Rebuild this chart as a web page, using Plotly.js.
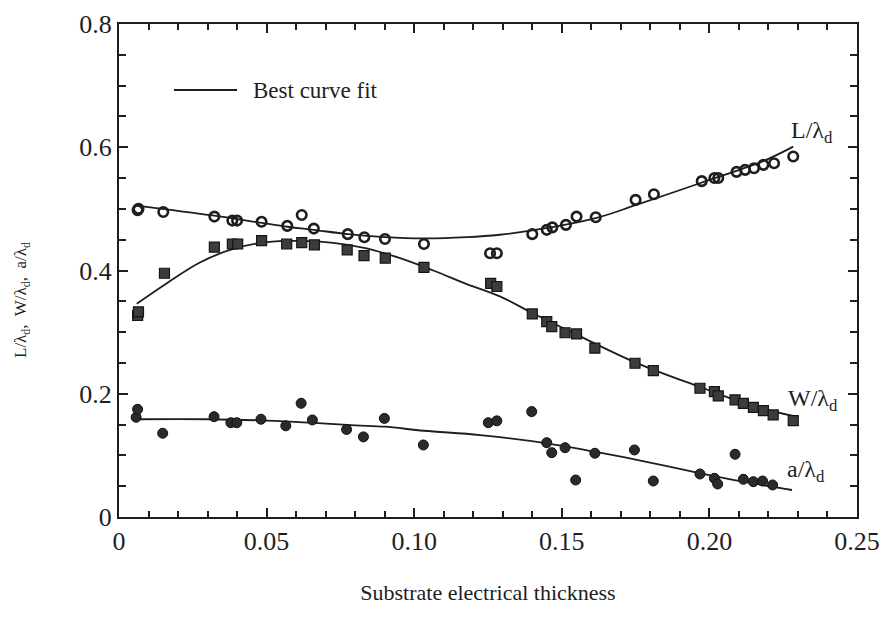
<!DOCTYPE html>
<html>
<head>
<meta charset="utf-8">
<script src="https://cdn.plot.ly/plotly-3.0.1.min.js"></script>
<style>html,body{margin:0;padding:0;background:#fff;}#chart{width:883px;height:629px;}</style>
</head>
<body>
<div id="chart"></div>
<script>
// Measured points: L/λd (open markers)
const L_x = [0.0063, 0.0066, 0.015, 0.0323, 0.0384, 0.040, 0.0483, 0.057, 0.0619, 0.066, 0.0775, 0.0831, 0.0901, 0.1033, 0.1257, 0.128, 0.140, 0.1449, 0.1468, 0.1514, 0.155, 0.1615, 0.175, 0.1812, 0.1974, 0.2017, 0.203, 0.2092, 0.2121, 0.2151, 0.2183, 0.2219, 0.2284];
const L_y = [0.498, 0.500, 0.495, 0.4875, 0.481, 0.481, 0.479, 0.4724, 0.490, 0.468, 0.459, 0.454, 0.451, 0.443, 0.428, 0.428, 0.459, 0.466, 0.470, 0.474, 0.4875, 0.4865, 0.5146, 0.5238, 0.545, 0.550, 0.550, 0.560, 0.5633, 0.566, 0.5714, 0.574, 0.585];
// W/λd (filled squares)
const W_x = [0.0063, 0.0066, 0.0154, 0.0323, 0.0384, 0.0402, 0.0483, 0.0568, 0.0619, 0.0662, 0.0773, 0.083, 0.0902, 0.1033, 0.1259, 0.128, 0.140, 0.1449, 0.1466, 0.1511, 0.155, 0.1612, 0.1748, 0.181, 0.1968, 0.2017, 0.203, 0.2087, 0.2115, 0.2149, 0.2183, 0.2216, 0.2284];
const W_y = [0.327, 0.333, 0.3955, 0.438, 0.443, 0.443, 0.4486, 0.443, 0.4453, 0.4416, 0.4334, 0.4242, 0.420, 0.405, 0.379, 0.374, 0.3295, 0.317, 0.309, 0.299, 0.297, 0.274, 0.2495, 0.2375, 0.2089, 0.2034, 0.1964, 0.190, 0.1845, 0.178, 0.1726, 0.1656, 0.1564];
// a/λd (filled circles)
const A_x = [0.0058, 0.0063, 0.0148, 0.0322, 0.0379, 0.0399, 0.0481, 0.0565, 0.0617, 0.0655, 0.0771, 0.0828, 0.0899, 0.1031, 0.1251, 0.128, 0.1398, 0.1449, 0.1466, 0.1511, 0.1547, 0.1612, 0.1746, 0.181, 0.1968, 0.2017, 0.2028, 0.2087, 0.2115, 0.2149, 0.218, 0.2214];
const A_y = [0.1618, 0.1748, 0.1359, 0.1628, 0.153, 0.153, 0.1586, 0.148, 0.1845, 0.1575, 0.142, 0.130, 0.160, 0.1169, 0.153, 0.156, 0.171, 0.1206, 0.1044, 0.1125, 0.060, 0.1034, 0.1088, 0.0584, 0.0698, 0.0628, 0.0536, 0.1018, 0.0612, 0.0573, 0.0584, 0.052];
// Best curve fits
const Lfit_x = [0.0065, 0.0323, 0.057, 0.066, 0.0775, 0.0901, 0.1033, 0.1178, 0.129, 0.140, 0.1615, 0.175, 0.197, 0.218, 0.2284];
const Lfit_y = [0.505, 0.489, 0.471, 0.466, 0.459, 0.454, 0.452, 0.454, 0.458, 0.465, 0.485, 0.506, 0.542, 0.577, 0.601];
const Wfit_x = [0.006, 0.0161, 0.0274, 0.0387, 0.05, 0.0613, 0.0726, 0.0839, 0.0952, 0.1065, 0.1178, 0.129, 0.140, 0.155, 0.1748, 0.1968, 0.2149, 0.2284];
const Wfit_y = [0.346, 0.379, 0.413, 0.435, 0.446, 0.448, 0.445, 0.436, 0.420, 0.400, 0.378, 0.358, 0.331, 0.296, 0.251, 0.211, 0.180, 0.164];
const Afit_x = [0.006, 0.03, 0.05, 0.065, 0.08, 0.09, 0.1033, 0.1223, 0.145, 0.161, 0.1746, 0.197, 0.2115, 0.228];
const Afit_y = [0.1586, 0.1586, 0.1564, 0.153, 0.1488, 0.1466, 0.140, 0.133, 0.1196, 0.106, 0.0936, 0.0709, 0.0573, 0.0438];

const xTickVals = [0, 0.05, 0.10, 0.15, 0.20, 0.25];
const xTickText = ['0', '0.05', '0.10', '0.15', '0.20', '0.25'];
const yTickVals = [0, 0.2, 0.4, 0.6, 0.8];
const yTickText = ['0', '0.2', '0.4', '0.6', '0.8'];

const FONT = 'Liberation Serif, Times New Roman, serif';
const INK = '#1e1e1e';

const fitLine = {color: INK, width: 1.8, shape: 'spline', smoothing: 1};
const traces = [
  {x: Lfit_x, y: Lfit_y, mode: 'lines', line: fitLine, hoverinfo: 'skip'},
  {x: Wfit_x, y: Wfit_y, mode: 'lines', line: fitLine, hoverinfo: 'skip'},
  {x: Afit_x, y: Afit_y, mode: 'lines', line: fitLine, hoverinfo: 'skip'},
  {x: L_x, y: L_y, mode: 'markers', marker: {symbol: 'circle-open', size: 9.5, color: INK, line: {width: 2.6, color: INK}}},
  {x: W_x, y: W_y, mode: 'markers', marker: {symbol: 'square', size: 10, color: '#3c3c3c', line: {width: 1.2, color: '#151515'}}},
  {x: A_x, y: A_y, mode: 'markers', marker: {symbol: 'circle', size: 10, color: '#2a2a2a', line: {width: 1, color: '#111'}}}
];

const axisCommon = {
  showline: true, linewidth: 2, linecolor: INK, mirror: 'allticks',
  ticks: 'inside', tickcolor: INK, tickwidth: 2, showgrid: false, zeroline: false,
  tickfont: {family: FONT, size: 26, color: INK}
};
const xMinor = {dtick: 0.01, ticks: 'inside', ticklen: 6, tickwidth: 2, tickcolor: INK, showgrid: false};
const yMinor = {dtick: 0.05, ticks: 'inside', ticklen: 7, tickwidth: 2, tickcolor: INK, showgrid: false};

const layout = {
  width: 883, height: 629,
  margin: {l: 119, r: 26, t: 24, b: 112},
  paper_bgcolor: '#fff', plot_bgcolor: '#fff',
  showlegend: false,
  font: {family: FONT, color: INK},
  xaxis: Object.assign({}, axisCommon, {
    range: [0, 0.25], tickmode: 'array', tickvals: xTickVals, ticktext: xTickText, ticklen: 9,
    minor: xMinor,
    title: {text: 'Substrate electrical thickness', font: {family: FONT, size: 22, color: INK}, standoff: 29}
  }),
  yaxis: Object.assign({}, axisCommon, {
    range: [0, 0.8], tickmode: 'array', tickvals: yTickVals, ticktext: yTickText, ticklen: 9,
    minor: yMinor
  }),
  xaxis2: {overlaying: 'x', side: 'top', range: [0, 0.25], tickmode: 'array', tickvals: xTickVals, ticktext: xTickVals.map(() => ''),
    ticks: 'inside', ticklen: 9, tickwidth: 2, tickcolor: INK, showgrid: false, zeroline: false, showline: false, minor: xMinor},
  yaxis2: {overlaying: 'y', side: 'right', range: [0, 0.8], tickmode: 'array', tickvals: yTickVals, ticktext: yTickVals.map(() => ''),
    ticks: 'inside', ticklen: 9, tickwidth: 2, tickcolor: INK, showgrid: false, zeroline: false, showline: false, minor: yMinor},
  shapes: [
    {type: 'line', xref: 'paper', yref: 'paper', x0: (174-119)/738, x1: (237-119)/738, y0: (517-90)/493, y1: (517-90)/493, line: {color: INK, width: 2}}
  ],
  annotations: [
    {xref: 'paper', yref: 'paper', x: (22-119)/738, y: (517-300)/493, xanchor: 'center', yanchor: 'middle', textangle: -90, showarrow: false,
      text: 'L/λ<sub>d</sub>,  W/λ<sub>d</sub>,  a/λ<sub>d</sub>', font: {family: FONT, size: 17, color: INK}},
    {xref: 'paper', yref: 'paper', x: (251-119)/738, y: (517-90)/493, xanchor: 'left', yanchor: 'middle', showarrow: false, text: 'Best curve fit', font: {family: FONT, size: 23, color: INK}},
    {xref: 'x', yref: 'y', x: 0.2268, y: 0.625, xanchor: 'left', yanchor: 'middle', showarrow: false, text: 'L/λ<sub>d</sub>', font: {family: FONT, size: 24, color: INK}},
    {xref: 'x', yref: 'y', x: 0.2258, y: 0.190, xanchor: 'left', yanchor: 'middle', showarrow: false, text: 'W/λ<sub>d</sub>', font: {family: FONT, size: 24, color: INK}},
    {xref: 'x', yref: 'y', x: 0.2256, y: 0.075, xanchor: 'left', yanchor: 'middle', showarrow: false, text: 'a/λ<sub>d</sub>', font: {family: FONT, size: 24, color: INK}}
  ]
};

Plotly.newPlot('chart', traces, layout, {staticPlot: true, displayModeBar: false});
</script>
</body>
</html>
